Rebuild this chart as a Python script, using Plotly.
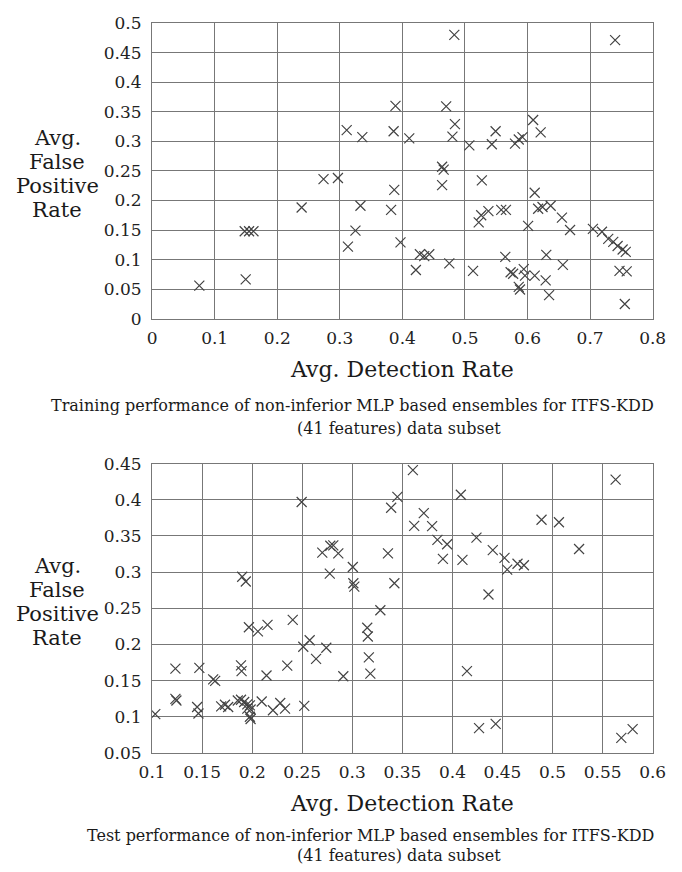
import plotly.graph_objects as go

# ---------------- data ----------------
train_dr = [0.389, 0.311, 0.336, 0.386, 0.411, 0.483, 0.740, 0.470, 0.484, 0.480,
            0.507, 0.549, 0.543, 0.580, 0.586, 0.592, 0.609, 0.621, 0.4635, 0.466,
            0.274, 0.297, 0.387, 0.239, 0.333, 0.382, 0.148, 0.155, 0.162, 0.325,
            0.313, 0.397, 0.0755, 0.1496, 0.4635, 0.527, 0.6115, 0.526, 0.522, 0.5375,
            0.558, 0.5655, 0.617, 0.624, 0.637, 0.655, 0.668, 0.601, 0.7045, 0.719,
            0.729, 0.737, 0.744, 0.752, 0.757, 0.428, 0.435, 0.443, 0.4216, 0.475,
            0.513, 0.5645, 0.573, 0.577, 0.594, 0.596, 0.586, 0.588, 0.6115, 0.630,
            0.629, 0.6345, 0.6565, 0.747, 0.7585, 0.7555]
train_fpr = [0.360, 0.319, 0.307, 0.317, 0.305, 0.480, 0.471, 0.359, 0.329, 0.308,
             0.293, 0.317, 0.295, 0.296, 0.303, 0.307, 0.336, 0.315, 0.257, 0.252,
             0.236, 0.238, 0.218, 0.188, 0.191, 0.184, 0.148, 0.148, 0.148, 0.149,
             0.122, 0.129, 0.056, 0.0665, 0.226, 0.234, 0.213, 0.175, 0.163, 0.182,
             0.184, 0.184, 0.186, 0.189, 0.191, 0.171, 0.150, 0.157, 0.152, 0.147,
             0.135, 0.130, 0.123, 0.117, 0.113, 0.109, 0.106, 0.109, 0.0825, 0.0935,
             0.081, 0.1045, 0.0787, 0.076, 0.084, 0.073, 0.054, 0.0495, 0.073, 0.108,
             0.065, 0.040, 0.091, 0.081, 0.080, 0.025]

test_dr = [0.2494, 0.3388, 0.270, 0.278, 0.281, 0.286, 0.3356, 0.2775, 0.3005, 0.190,
           0.1936, 0.301, 0.302, 0.3605, 0.563, 0.345, 0.4084, 0.3714, 0.3618, 0.3797,
           0.489, 0.5064, 0.385, 0.3947, 0.424, 0.3905, 0.41, 0.4403, 0.452, 0.4547,
           0.465, 0.4714, 0.5265, 0.342, 0.328, 0.1967, 0.2057, 0.2153, 0.2405, 0.3149,
           0.3155, 0.251, 0.2574, 0.274, 0.2638, 0.3165, 0.235, 0.1888, 0.1894, 0.1233,
           0.1472, 0.161, 0.163, 0.2143, 0.291, 0.318, 0.1233, 0.1243, 0.145, 0.1463,
           0.169, 0.1728, 0.176, 0.1856, 0.1888, 0.192, 0.1951, 0.1977, 0.1951, 0.1984,
           0.1977, 0.1984, 0.2095, 0.2207, 0.228, 0.2328, 0.252, 0.1032, 0.436, 0.4145,
           0.4266, 0.4432, 0.58, 0.5687]
test_fpr = [0.397, 0.389, 0.327, 0.3365, 0.337, 0.326, 0.326, 0.298, 0.307, 0.2936,
            0.287, 0.2846, 0.280, 0.441, 0.428, 0.404, 0.407, 0.3815, 0.364, 0.3635,
            0.3724, 0.369, 0.3446, 0.3386, 0.3477, 0.3184, 0.317, 0.3305, 0.3197, 0.3035,
            0.3116, 0.3095, 0.332, 0.2846, 0.2473, 0.2238, 0.218, 0.227, 0.234, 0.223,
            0.211, 0.1968, 0.2058, 0.1954, 0.180, 0.182, 0.1707, 0.171, 0.163, 0.1666,
            0.1676, 0.1517, 0.1495, 0.157, 0.156, 0.1595, 0.1247, 0.1224, 0.1135, 0.1045,
            0.1143, 0.1166, 0.1135, 0.1224, 0.1234, 0.1203, 0.117, 0.1157, 0.1112, 0.110,
            0.100, 0.0968, 0.1211, 0.109, 0.119, 0.1112, 0.1149, 0.1035, 0.269, 0.163,
            0.0842, 0.090, 0.0828, 0.0707]

top_xticks = [0, 0.1, 0.2, 0.3, 0.4, 0.5, 0.6, 0.7, 0.8]
top_xlabels = ["0", "0.1", "0.2", "0.3", "0.4", "0.5", "0.6", "0.7", "0.8"]
top_yticks = [0, 0.05, 0.1, 0.15, 0.2, 0.25, 0.3, 0.35, 0.4, 0.45, 0.5]
top_ylabels = ["0", "0.05", "0.1", "0.15", "0.2", "0.25", "0.3", "0.35", "0.4", "0.45", "0.5"]
bot_xticks = [0.1, 0.15, 0.2, 0.25, 0.3, 0.35, 0.4, 0.45, 0.5, 0.55, 0.6]
bot_xlabels = ["0.1", "0.15", "0.2", "0.25", "0.3", "0.35", "0.4", "0.45", "0.5", "0.55", "0.6"]
bot_yticks = [0.05, 0.1, 0.15, 0.2, 0.25, 0.3, 0.35, 0.4, 0.45]
bot_ylabels = ["0.05", "0.1", "0.15", "0.2", "0.25", "0.3", "0.35", "0.4", "0.45"]

x_title = "Avg. Detection Rate"
y_title_lines = ["Avg.", "False", "Positive", "Rate"]
caption_top = ["Training performance of non-inferior MLP based ensembles for ITFS-KDD",
               "(41 features) data subset"]
caption_bot = ["Test performance of non-inferior MLP based ensembles for ITFS-KDD",
               "(41 features) data subset"]

# ---------------- layout helpers ----------------
W, H = 682, 872
FONT = "DejaVu Serif"
GRID = "#777777"
MARK = "#444444"


def px(x):
    return x / W


def py(y):
    return 1 - y / H


fig = go.Figure()
marker = dict(symbol="x-thin-open", size=10, color=MARK, line=dict(color=MARK, width=1.2))
fig.add_trace(go.Scatter(x=train_dr, y=train_fpr, mode="markers", marker=marker,
                         xaxis="x", yaxis="y", showlegend=False))
fig.add_trace(go.Scatter(x=test_dr, y=test_fpr, mode="markers", marker=marker,
                         xaxis="x2", yaxis="y2", showlegend=False))

axis_common = dict(showgrid=True, gridcolor=GRID, gridwidth=1.3, showline=True,
                   linecolor=GRID, linewidth=1.3, mirror=True, zeroline=False,
                   ticks="", tickfont=dict(family=FONT, size=17, color="#222"),
                   fixedrange=True)

fig.update_layout(
    width=W, height=H, autosize=False,
    margin=dict(l=0, r=0, t=0, b=0),
    paper_bgcolor="white", plot_bgcolor="white",
    xaxis=dict(domain=[px(144), px(666)], range=[0, 0.8], tickvals=top_xticks,
               ticktext=top_xlabels, anchor="y", ticklabelstandoff=4, **axis_common),
    yaxis=dict(domain=[py(316), py(13.3)], range=[0, 0.5], tickvals=top_yticks,
               ticktext=top_ylabels, anchor="x", ticklabelstandoff=6, **axis_common),
    xaxis2=dict(domain=[px(144), px(666)], range=[0.1, 0.6], tickvals=bot_xticks,
                ticktext=bot_xlabels, anchor="y2", ticklabelstandoff=4, **axis_common),
    yaxis2=dict(domain=[py(760.3), py(464.3)], range=[0.05, 0.45], tickvals=bot_yticks,
                ticktext=bot_ylabels, anchor="x2", ticklabelstandoff=6, **axis_common),
)

ann = []


def text(x, y, s, size, anchor="center"):
    ann.append(dict(x=px(x), y=py(y), xref="paper", yref="paper", text=s,
                    showarrow=False, xanchor=anchor, yanchor="middle",
                    font=dict(family=FONT, size=size, color="#1a1a1a")))


# axis titles
text(405, 368, x_title, 22)
text(405, 812, x_title, 22)
for i, line in enumerate(y_title_lines):
    text(45, 131 + 24.5 * i, line, 21)
    text(45, 569 + 24.5 * i, line, 21)

# captions
text(669, 405, caption_top[0], 16, anchor="right")
text(402, 428, caption_top[1], 16)
text(669, 845, caption_bot[0], 16, anchor="right")
text(402, 865, caption_bot[1], 16)

fig.update_layout(annotations=ann)
fig.write_html("out.html", config={"displayModeBar": False},
               post_script="document.body.style.margin='0';document.body.style.overflow='hidden';")
